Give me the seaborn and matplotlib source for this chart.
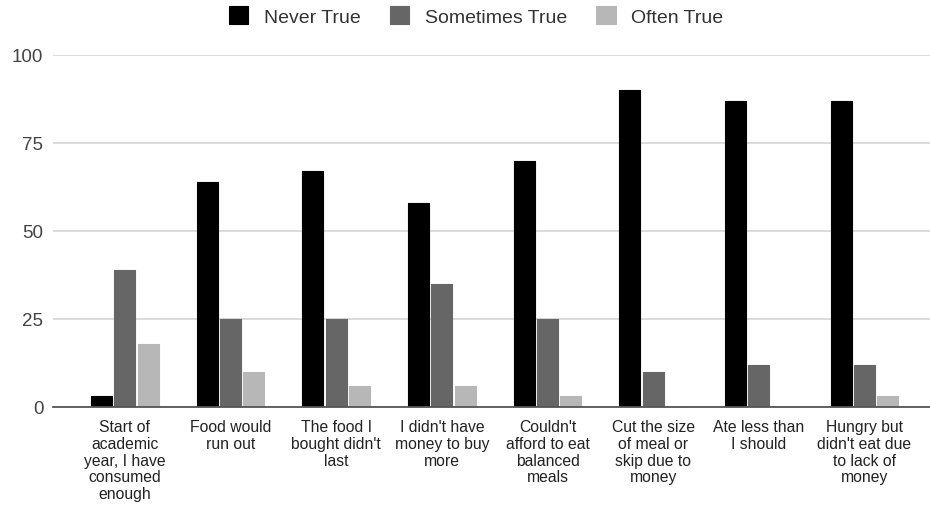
import matplotlib
matplotlib.use("Agg")
import matplotlib.pyplot as plt
import seaborn as sns
import pandas as pd

categories = [
    "Start of\nacademic\nyear, I have\nconsumed\nenough",
    "Food would\nrun out",
    "The food I\nbought didn't\nlast",
    "I didn't have\nmoney to buy\nmore",
    "Couldn't\nafford to eat\nbalanced\nmeals",
    "Cut the size\nof meal or\nskip due to\nmoney",
    "Ate less than\nI should",
    "Hungry but\ndidn't eat due\nto lack of\nmoney",
]
series = ["Never True", "Sometimes True", "Often True"]
never_true = [3, 64, 67, 58, 70, 90, 87, 87]
sometimes_true = [39, 25, 25, 35, 25, 10, 12, 12]
often_true = [18, 10, 6, 6, 3, 0, 0, 3]
y_ticks = [0, 25, 50, 75, 100]
colors = ["#000000", "#666666", "#b7b7b7"]

rows = []
for s, vals in zip(series, [never_true, sometimes_true, often_true]):
    for c, v in zip(categories, vals):
        rows.append({"category": c, "series": s, "value": v})
df = pd.DataFrame(rows)

sns.set_theme(style="white")
plt.rcParams["font.family"] = ["Liberation Sans", "DejaVu Sans"]

W, H = 930, 506
fig = plt.figure(figsize=(W / 100, H / 100), dpi=100)
ax = fig.add_axes([53 / W, (H - 408) / H, (W - 53) / W, (408 - 56) / H])

sns.barplot(data=df, x="category", y="value", hue="series", order=categories,
            hue_order=series, palette=colors, width=0.66, gap=0.1,
            saturation=1, ax=ax, legend=True)

for p in ax.patches:
    p.set_edgecolor(p.get_facecolor())
    p.set_linewidth(0.8)
    p.set_joinstyle("round")

ax.set_ylim(0, 100)
ax.set_xlim(-0.68, 7.62)
ax.set_yticks(y_ticks)
ax.set_yticklabels([str(t) for t in y_ticks], fontsize=13.5, color="#444444")
ax.tick_params(axis="y", length=0, pad=7)
ax.tick_params(axis="x", length=0, pad=9)
ax.set_xticks(range(len(categories)))
ax.set_xticklabels(categories, fontsize=11.3, color="#222222", linespacing=1.13)
ax.set_xlabel("")
ax.set_ylabel("")
ax.grid(axis="y", color="#d9d9d9", linewidth=1.3)
ax.set_axisbelow(True)
for side in ["top", "right", "left"]:
    ax.spines[side].set_visible(False)
ax.spines["bottom"].set_color("#555555")
ax.spines["bottom"].set_linewidth(1.3)

leg = ax.get_legend()
if leg is not None:
    leg.remove()
handles, labels = ax.get_legend_handles_labels()
fig.legend(handles[:3], labels[:3], loc="center", bbox_to_anchor=(0.512, 1 - 17 / H),
           ncol=3, frameon=False, fontsize=14, handlelength=1.0, handleheight=1.0,
           handletextpad=0.8, columnspacing=1.5, labelcolor="#333333")

fig.savefig("out.png", dpi=100)
